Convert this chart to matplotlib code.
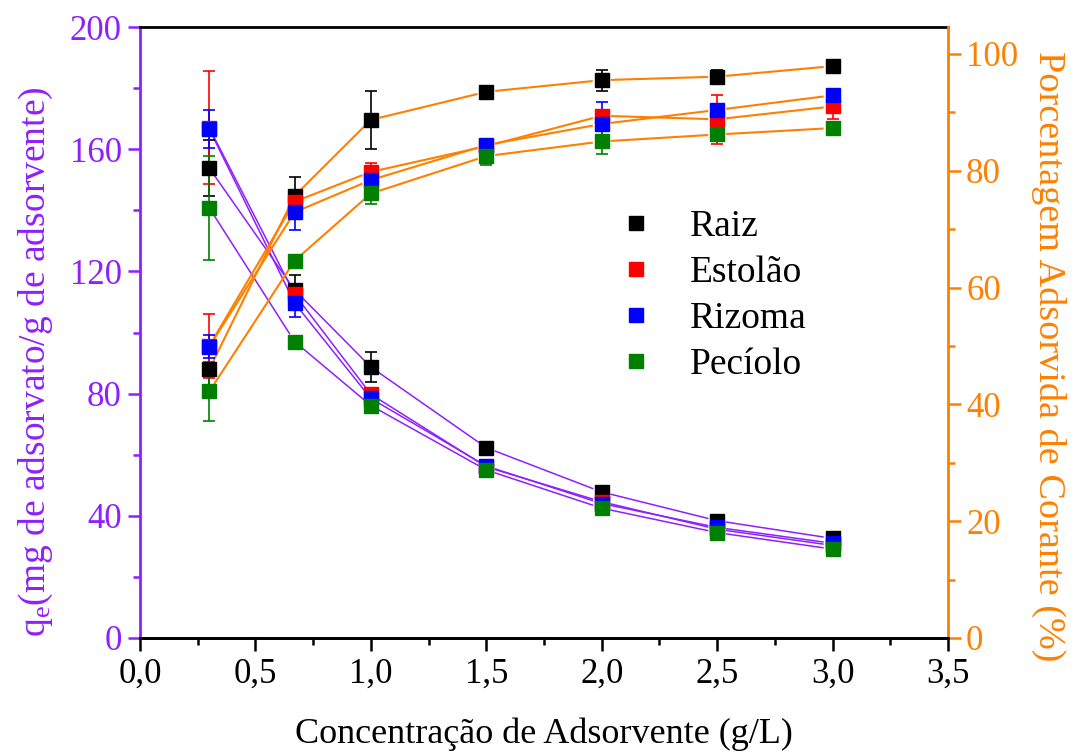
import numpy as np
import matplotlib
matplotlib.use("Agg")
import matplotlib.pyplot as plt
from matplotlib.lines import Line2D

plt.rcParams['font.family'] = ['Liberation Serif', 'DejaVu Serif']
plt.rcParams['mathtext.fontset'] = 'custom'
plt.rcParams['mathtext.rm'] = 'Liberation Serif'
plt.rcParams['mathtext.it'] = 'Liberation Serif:italic'

PURPLE = '#8F1FFF'
ORANGE = '#FF8000'

# adsorbent dose (g/L)
dose = [0.3, 0.67, 1.0, 1.5, 2.0, 2.5, 3.0]
names = ['Raiz', 'Estolão', 'Rizoma', 'Pecíolo']
colors = ['black', '#FF0000', '#0000FF', '#008000']

# q_e (mg/g) - left axis
qe_raiz    = [153.8, 113.9, 88.7, 62.3, 47.8, 38.4, 32.6]
qe_estolao = [167.0, 112.5, 79.8, 56.0, 44.6, 35.6, 30.3]
qe_rizoma  = [166.6, 109.6, 78.4, 56.3, 44.0, 36.2, 31.0]
qe_peciolo = [140.8, 97.0, 76.1, 55.0, 42.5, 34.5, 29.1]
qe_err_raiz    = [9.2, 5.0, 5.0, 0.6, 0.9, 0.5, 0.2]
qe_err_estolao = [18.5, 2.0, 1.5, 0.5, 0.5, 1.7, 0.7]
qe_err_rizoma  = [6.3, 4.5, 1.5, 0.7, 1.8, 0.4, 0.2]
qe_err_peciolo = [17.0, 1.2, 1.8, 1.0, 1.0, 0.4, 0.2]

# removal (%) - right axis
pct_raiz    = [46.0, 75.7, 88.7, 93.5, 95.5, 96.1, 97.9]
pct_estolao = [50.0, 74.7, 79.8, 84.2, 89.4, 88.8, 91.0]
pct_rizoma  = [49.9, 72.9, 78.4, 84.4, 88.0, 90.4, 92.9]
pct_peciolo = [42.2, 64.6, 76.1, 82.5, 85.0, 86.2, 87.3]
pct_err_raiz    = [2.8, 3.3, 5.0, 0.6, 1.8, 1.2, 0.5]
pct_err_estolao = [5.5, 1.3, 1.5, 0.6, 1.0, 4.2, 2.2]
pct_err_rizoma  = [1.9, 3.0, 1.5, 1.0, 3.7, 1.0, 0.5]
pct_err_peciolo = [5.1, 0.8, 1.8, 1.5, 2.1, 1.0, 0.5]

qe_all = [qe_raiz, qe_estolao, qe_rizoma, qe_peciolo]
qe_err_all = [qe_err_raiz, qe_err_estolao, qe_err_rizoma, qe_err_peciolo]
pct_all = [pct_raiz, pct_estolao, pct_rizoma, pct_peciolo]
pct_err_all = [pct_err_raiz, pct_err_estolao, pct_err_rizoma, pct_err_peciolo]

xticks = [0.0, 0.5, 1.0, 1.5, 2.0, 2.5, 3.0, 3.5]
xticklabels = ['0,0', '0,5', '1,0', '1,5', '2,0', '2,5', '3,0', '3,5']

fig = plt.figure(figsize=(10.76, 7.54), dpi=100)
ax = fig.add_axes([140 / 1076, 116 / 754, 808 / 1076, 611 / 754])
ax2 = ax.twinx()

ax.set_xlim(0, 3.5)
ax.set_ylim(0, 200)
ax2.set_ylim(0, 104.6)


def gapped(a, x, y, color, lw, gap=9):
    # Origin-style connecting line that stops short of the markers
    pts = a.transData.transform(np.column_stack([x, y]))
    inv = a.transData.inverted()
    for p, q in zip(pts[:-1], pts[1:]):
        d = q - p
        L = np.hypot(*d)
        if L <= 2 * gap:
            continue
        u = d / L
        s, e = inv.transform([p + u * gap, q - u * gap])
        a.plot([s[0], e[0]], [s[1], e[1]], color=color, lw=lw, zorder=1,
               solid_capstyle='butt')


for q in qe_all:
    gapped(ax, dose, q, PURPLE, 1.1)
for p in pct_all:
    gapped(ax2, dose, p, ORANGE, 1.5)

for q, qe_e, c in zip(qe_all, qe_err_all, colors):
    ax.errorbar(dose, q, yerr=qe_e, fmt='s', ms=9.5, color=c, mec=c,
                ecolor=c, elinewidth=1.2, capsize=4.5, capthick=1.2,
                zorder=3)
for p, p_e, c in zip(pct_all, pct_err_all, colors):
    ax2.errorbar(dose, p, yerr=p_e, fmt='s', ms=9.5, color=c, mec=c,
                 ecolor=c, elinewidth=1.2, capsize=4.5, capthick=1.2,
                 zorder=3)

# axes styling
ax.set_xticks(xticks)
ax.set_xticklabels(xticklabels)
ax.set_xticks(np.arange(0.25, 3.5, 0.5), minor=True)
ax.set_yticks([0, 40, 80, 120, 160, 200])
ax.set_yticks([20, 60, 100, 140, 180], minor=True)
ax2.set_yticks([0, 20, 40, 60, 80, 100])
ax2.set_yticks([10, 30, 50, 70, 90], minor=True)

for a in (ax, ax2):
    for s in a.spines.values():
        s.set_linewidth(2)
ax.spines['left'].set_color(PURPLE)
ax.spines['right'].set_visible(False)
ax2.spines['left'].set_visible(False)
ax2.spines['right'].set_color(ORANGE)
ax2.spines['top'].set_visible(False)

ax.tick_params(axis='x', which='major', direction='out', length=9, width=1.8,
               labelsize=25, colors='black', pad=5)
ax.tick_params(axis='x', which='minor', direction='out', length=5, width=1.8)
ax.tick_params(axis='y', which='major', direction='out', length=9, width=1.8,
               labelsize=25, colors=PURPLE, pad=4)
ax.tick_params(axis='y', which='minor', direction='out', length=5, width=1.8,
               colors=PURPLE)
ax2.tick_params(axis='y', which='major', direction='out', length=9, width=1.8,
                labelsize=25, colors=ORANGE, pad=4)
ax2.tick_params(axis='y', which='minor', direction='out', length=5, width=1.8,
                colors=ORANGE)

ax.set_xlabel('Concentração de Adsorvente (g/L)', fontsize=26)
ax.xaxis.set_label_coords(0.5, -0.13)
ax.set_ylabel(r'q$_\mathrm{e}$(mg de adsorvato/g de adsorvente)',
              fontsize=27, color=PURPLE)
ax.yaxis.set_label_coords(-0.105, 0.452)
ax2.set_ylabel('Porcentagem Adsorvida de Corante (%)', fontsize=27.5,
               color=ORANGE, rotation=270, va='bottom')
ax2.yaxis.set_label_coords(1.103, 0.462)

handles = [Line2D([], [], ls='none', marker='s', ms=9.5, color=c, mec=c)
           for c in colors]
fig.legend(handles, names, loc='upper left',
           bbox_to_anchor=(617 / 1076, 1 - 210 / 754), frameon=False,
           fontsize=27, handlelength=1.0, handletextpad=0.95,
           labelspacing=0.3, borderpad=0, borderaxespad=0)

fig.savefig('out.png', dpi=100)
